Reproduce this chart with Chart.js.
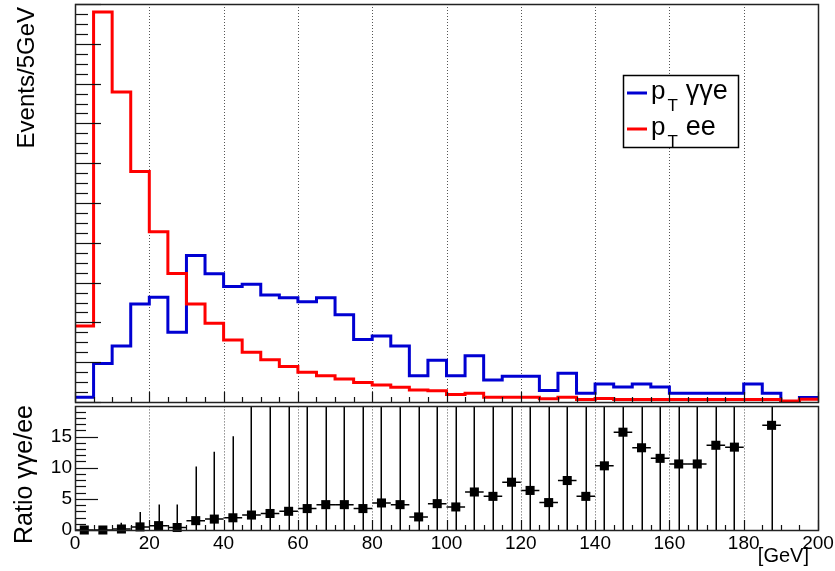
<!DOCTYPE html>
<html><head><meta charset="utf-8">
<script src="https://cdn.jsdelivr.net/npm/chart.js@4/dist/chart.umd.min.js"></script>
<style>
html,body{margin:0;padding:0;background:#fff;}
#wrap{position:relative;width:835px;height:571px;overflow:hidden;background:#fff}
canvas{position:absolute;left:0}
#c1{top:0}
#c2{top:400px}
</style></head><body>
<div id="wrap"><canvas id="c1" width="835" height="405"></canvas><canvas id="c2" width="835" height="171"></canvas></div>
<script>
// ---- data ----
const binEdges = [0,5,10,15,20,25,30,35,40,45,50,55,60,65,70,75,80,85,90,95,100,
  105,110,115,120,125,130,135,140,145,150,155,160,165,170,175,180,185,190,195,200];
const ptGGe = [1.2,9.7,14.1,24.6,26.3,17.5,36.8,32.2,29.0,29.6,26.9,26.2,25.2,26.2,21.9,15.7,16.6,14.1,6.6,10.5,
  6.6,11.6,5.5,6.5,6.5,2.9,7.2,2.2,4.5,3.8,4.5,3.8,2.2,2.2,2.2,2.2,4.5,2.2,0,1.1];
const ptEE = [19.1,98.0,77.9,57.9,42.8,32.3,24.6,19.8,15.6,12.5,10.6,8.9,7.5,6.6,5.8,4.9,4.3,3.7,3.0,2.8,
  1.9,2.2,1.2,1.2,1.2,0.8,1.2,0.6,0.9,0.6,0.6,0.6,0.6,0.6,0.6,0.6,0.6,0.6,0.25,0.7];
const ratioCenters = [2.5,7.5,12.5,17.5,22.5,27.5,32.5,37.5,42.5,47.5,52.5,57.5,62.5,67.5,72.5,77.5,82.5,87.5,92.5,97.5,
  102.5,107.5,112.5,117.5,122.5,127.5,132.5,137.5,142.5,147.5,152.5,157.5,162.5,167.5,172.5,177.5,182.5,187.5,192.5,197.5];
const ratioVals = [0,0,0.16,0.5,0.7,0.4,1.5,1.75,1.96,2.4,2.65,3.0,3.44,4.07,4.07,3.44,4.34,4.07,2.1,4.23,
  3.7,6.1,5.4,7.67,6.35,4.4,7.94,5.4,10.3,15.7,13.2,11.5,10.6,10.6,13.6,13.3,null,16.8,null,null];
const ratioErr = [0,0,1.0,2.4,3.4,3.7,8.7,10.8,13.1,25,25,25,25,25,25,25,25,25,25,25,
  25,25,25,25,25,25,25,25,25,25,25,25,25,25,25,25,null,25,null,null];
const xTickLabels = ['0','20','40','60','80','100','120','140','160','180','200'];
const ratioTickLabels = ['0','5','10','15'];
const gridLines = [20,40,60,80,100,120,140,160,180];
const seriesNames = [{main:'p', sub:'T', rest:'γγe'}, {main:'p', sub:'T', rest:'ee'}];
const yTitleTop = 'Events/5GeV';
const yTitleBottom = 'Ratio γγe/ee';
const xUnit = '[GeV]';

const BLUE = '#0000d2', RED = '#ff0000';
const FONT = '"Liberation Sans", Arial, Helvetica, sans-serif';

// ---- decoration plugin: ROOT-like frame, inner ticks, dotted grid, titles, legend ----
const deco = {
  id: 'deco',
  beforeDatasetsDraw(chart, args, o) {
    const {ctx, chartArea: a, scales: {x}} = chart;
    ctx.save();
    ctx.strokeStyle = '#555'; ctx.lineWidth = 1; ctx.setLineDash([1, 2]);
    o.gridX.forEach(v => {
      const px = Math.round(x.getPixelForValue(v)) + 0.5;
      ctx.beginPath(); ctx.moveTo(px, a.top); ctx.lineTo(px, a.bottom); ctx.stroke();
    });
    ctx.restore();
  },
  afterDatasetsDraw(chart, args, o) {
    const {ctx, chartArea: a, scales: {x, y}} = chart;
    ctx.save();
    ctx.strokeStyle = '#111'; ctx.lineWidth = 1.2;
    for (let v = 0; v <= 200; v += 5) {
      const px = Math.round(x.getPixelForValue(v)) + 0.5;
      const len = (v % 20 === 0) ? 10 : 5;
      ctx.beginPath(); ctx.moveTo(px, a.bottom); ctx.lineTo(px, a.bottom - len); ctx.stroke();
    }
    const n = Math.floor(y.max / o.yMinor + 1e-6);
    for (let i = 0; i <= n; i++) {
      const v = i * o.yMinor;
      const py = Math.round(y.getPixelForValue(v)) + 0.5;
      const len = (i % o.yRatio === 0) ? o.yMajorLen : o.yMinorLen;
      ctx.beginPath(); ctx.moveTo(a.left, py); ctx.lineTo(a.left + len, py); ctx.stroke();
    }
    ctx.lineWidth = 1.5; ctx.strokeStyle = '#222';
    ctx.strokeRect(Math.round(a.left) + 0.5, Math.round(a.top) + 0.5,
      Math.round(a.right - a.left), Math.round(a.bottom - a.top));
    ctx.restore();
  },
  afterDraw(chart, args, o) {
    const {ctx, scales: {x}} = chart;
    ctx.save();
    ctx.fillStyle = '#000';
    ctx.font = o.titleFont;
    ctx.translate(o.titleX, o.titleTop);
    ctx.rotate(-Math.PI / 2);
    ctx.textAlign = 'right'; ctx.textBaseline = 'alphabetic';
    ctx.fillText(o.title, 0, 0);
    ctx.restore();
    if (o.unit) {
      ctx.save();
      ctx.font = '20px ' + FONT; ctx.fillStyle = '#000';
      ctx.textAlign = 'right'; ctx.textBaseline = 'alphabetic';
      ctx.fillText(o.unit, x.getPixelForValue(200) - 9, o.unitY);
      ctx.restore();
    }
    if (o.legend) {
      const L = o.legend;
      ctx.save();
      ctx.fillStyle = '#fff';
      ctx.fillRect(L.x, L.y, L.w, L.h);
      ctx.strokeStyle = '#000'; ctx.lineWidth = 1.5;
      ctx.strokeRect(L.x + 0.5, L.y + 0.5, L.w, L.h);
      chart.data.datasets.slice().reverse().forEach((ds, i) => {
        const nm = seriesNames[i];
        const base = L.y + L.rows[i];
        ctx.strokeStyle = ds.borderColor; ctx.lineWidth = 3;
        ctx.beginPath(); ctx.moveTo(L.x + 4, base - 6); ctx.lineTo(L.x + 24, base - 6); ctx.stroke();
        ctx.fillStyle = '#000';
        ctx.textAlign = 'left'; ctx.textBaseline = 'alphabetic';
        ctx.font = '26px ' + FONT;
        let tx = L.x + 28;
        ctx.fillText(nm.main, tx, base);
        tx += ctx.measureText(nm.main).width;
        ctx.font = '17px ' + FONT;
        ctx.fillText(nm.sub, tx + 2, base + 12);
        tx += ctx.measureText(nm.sub).width + 2;
        ctx.font = '27px ' + FONT;
        ctx.fillText(nm.rest, tx + 8, base);
      });
      ctx.restore();
    }
  }
};

// ---- error bars for the ratio panel ----
const errBars = {
  id: 'errBars',
  beforeDatasetsDraw(chart) {
    const {ctx, chartArea: a, scales: {x, y}} = chart;
    ctx.save();
    ctx.beginPath(); ctx.rect(a.left, a.top, a.right - a.left, a.bottom - a.top + 6); ctx.clip();
    ctx.strokeStyle = '#000'; ctx.lineWidth = 1.5;
    ratioCenters.forEach((c, i) => {
      const v = ratioVals[i];
      if (v === null) return;
      const px = x.getPixelForValue(c), py = y.getPixelForValue(v);
      const x0 = x.getPixelForValue(c - 2.5), x1 = x.getPixelForValue(c + 2.5);
      ctx.beginPath(); ctx.moveTo(x0, py); ctx.lineTo(x1, py); ctx.stroke();
      const e = ratioErr[i];
      if (e) {
        const lo = Math.max(0, v - e);
        ctx.beginPath();
        ctx.moveTo(Math.round(px) + 0.25, y.getPixelForValue(lo));
        ctx.lineTo(Math.round(px) + 0.25, y.getPixelForValue(v + e));
        ctx.stroke();
      }
    });
    ctx.restore();
  }
};

const stepPts = vals => binEdges.map((e, i) => ({x: e, y: vals[Math.min(i, vals.length - 1)]}));

// ---- top panel ----
new Chart(document.getElementById('c1'), {
  type: 'line',
  data: {
    datasets: [
      {label: 'pT ee', data: stepPts(ptEE), borderColor: RED, borderWidth: 3, stepped: true,
       pointRadius: 0, fill: false, borderJoinStyle: 'miter', borderCapStyle: 'butt'},
      {label: 'pT γγe', data: stepPts(ptGGe), borderColor: BLUE, borderWidth: 3, stepped: true,
       pointRadius: 0, fill: false, borderJoinStyle: 'miter', borderCapStyle: 'butt'}
    ]
  },
  options: {
    responsive: false, animation: false, events: [],
    layout: {padding: {left: 0, right: 17, top: 4, bottom: 0}},
    plugins: {
      legend: {display: false}, tooltip: {enabled: false},
      deco: {gridX: gridLines, yMinor: 2.5, yRatio: 4, yMajorLen: 26, yMinorLen: 13,
        title: yTitleTop, titleFont: '24px ' + FONT, titleX: 34, titleTop: 7,
        legend: {x: 623, y: 75, w: 115, h: 72, rows: [24, 60]}}
    },
    scales: {
      x: {type: 'linear', min: 0, max: 200, ticks: {display: false}, grid: {display: false},
          border: {display: false}, afterFit: s => { s.height = 3; s.paddingLeft = 0; s.paddingRight = 0; }},
      y: {min: 0, max: 100, ticks: {display: false}, grid: {display: false},
          border: {display: false}, afterFit: s => { s.width = 75; s.paddingTop = 0; s.paddingBottom = 0; }}
    }
  },
  plugins: [deco]
});

// ---- ratio panel ----
new Chart(document.getElementById('c2'), {
  type: 'scatter',
  data: {
    datasets: [{
      label: 'ratio',
      data: ratioCenters.map((c, i) => ({x: c, y: ratioVals[i]})).filter(p => p.y !== null),
      backgroundColor: '#000', borderColor: '#000', borderWidth: 0,
      pointStyle: 'rect', pointRadius: 6.4, clip: false
    }]
  },
  options: {
    responsive: false, animation: false, events: [],
    layout: {padding: {left: 0, right: 17, top: 5, bottom: 0}},
    plugins: {
      legend: {display: false}, tooltip: {enabled: false},
      deco: {gridX: gridLines, yMinor: 1, yRatio: 5, yMajorLen: 23, yMinorLen: 11,
        title: yTitleBottom, titleFont: '25px ' + FONT, titleX: 32, titleTop: 5,
        unit: xUnit, unitY: 162}
    },
    scales: {
      x: {type: 'linear', min: 0, max: 200, grid: {display: false, drawTicks: false},
          border: {display: false},
          ticks: {stepSize: 20, padding: 2, color: '#000', maxRotation: 0, autoSkip: false,
                  font: {family: FONT, size: 19},
                  callback: (v) => xTickLabels[Math.round(v / 20)]},
          afterFit: s => { s.height = 41; s.paddingLeft = 0; s.paddingRight = 0; }},
      y: {min: 0, max: 19.84, grid: {display: false, drawTicks: false}, border: {display: false},
          ticks: {stepSize: 5, padding: 3, includeBounds: false, color: '#000', font: {family: FONT, size: 19},
                  callback: (v) => ratioTickLabels[Math.round(v / 5)]},
          afterFit: s => { s.width = 75; s.paddingTop = 0; s.paddingBottom = 0; }}
    }
  },
  plugins: [errBars, deco]
});
</script>
</body></html>
